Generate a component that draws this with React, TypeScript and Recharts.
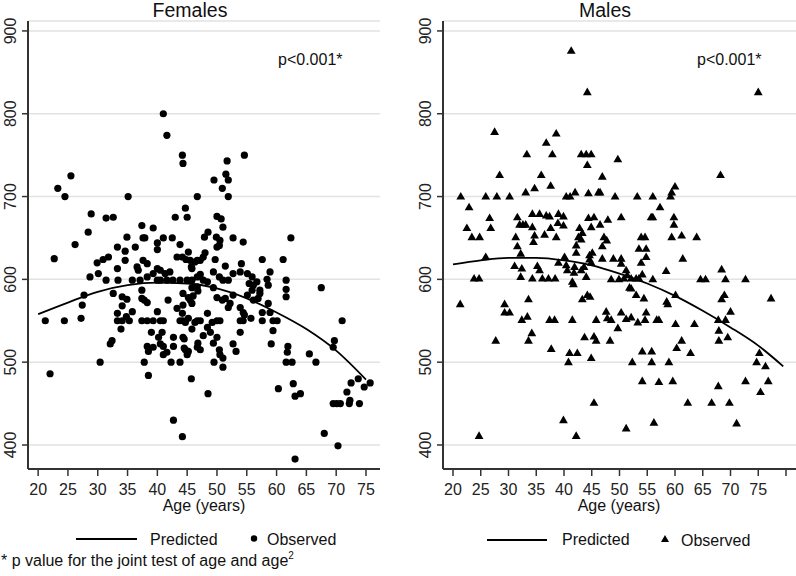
import React from "react";
import { CartesianGrid, ComposedChart, Line, Scatter, XAxis, YAxis } from "recharts";

const FONT = '"Liberation Sans", Arial, Helvetica, sans-serif';

// axis ticks
const yTicks = [400, 500, 600, 700, 800, 900];
const femaleAgeTicks = [20, 25, 30, 35, 40, 45, 50, 55, 60, 65, 70, 75];
const maleAgeTicks = [20, 25, 30, 35, 40, 45, 50, 55, 60, 65, 70, 75, 80];
const maleAgeLabels = ["20", "25", "30", "35", "40", "45", "50", "55", "60", "65", "70", "75", ""];

// predicted curves
const femalePredAges = [20, 25, 30, 35, 40, 45, 50, 55, 60, 65, 70, 75];
const femalePredicted = [558, 572, 585, 593, 596, 595, 589, 577, 560, 540, 514, 479];
const malePredAges = [20, 25, 30, 35, 40, 45, 50, 55, 60, 65, 70, 75, 79.5];
const malePredicted = [618, 623, 626, 626, 623, 617, 607, 595, 580, 562, 542, 520, 495];

// observed points [age, value]
const femaleObserved: [number, number][] = [
  [41.0, 800], [41.6, 774], [44.2, 750], [44.3, 740], [46.7, 700], [23.3, 710], [24.5, 700], [25.5, 725],
  [22.7, 625], [26.2, 642], [28.9, 679], [28.4, 657], [28.7, 603], [29.9, 620], [30.1, 607], [31.4, 674],
  [32.6, 675], [35.1, 700], [31.4, 599], [33.3, 639], [34.9, 651], [34.6, 634], [34.6, 623], [33.3, 613],
  [33.4, 599], [30.9, 624], [31.8, 627], [36.3, 639], [37.4, 665], [37.6, 650], [37.9, 650], [39.3, 662],
  [40.0, 644], [40.0, 636], [41.0, 650], [42.5, 650], [43.0, 675], [44.7, 686], [45.0, 675], [43.8, 642],
  [45.2, 633], [44.2, 627], [43.3, 627], [45.5, 623], [46.7, 623], [45.8, 613], [36.6, 615], [36.8, 611],
  [37.6, 623], [38.3, 619], [40.0, 613], [40.5, 611], [39.3, 607], [41.3, 607], [42.1, 609], [37.1, 599],
  [38.3, 603], [35.8, 599], [40.0, 599], [40.5, 599], [41.6, 599], [42.6, 599], [43.8, 599], [45.0, 599],
  [46.7, 603], [37.4, 587], [32.6, 583], [27.7, 581],
  [54.6, 750], [51.7, 743], [51.5, 727], [51.9, 720], [49.5, 720], [50.9, 710], [51.9, 700], [50.0, 676],
  [50.7, 673], [51.0, 663], [48.5, 657], [47.9, 651], [49.9, 651], [50.5, 647], [50.4, 641], [50.0, 639],
  [52.7, 650], [54.4, 645], [62.4, 650], [48.0, 632], [47.7, 627], [47.2, 623], [46.3, 621], [45.7, 615],
  [44.8, 624], [49.7, 624], [51.4, 616], [54.1, 619], [57.6, 624], [61.1, 624], [58.9, 609], [55.1, 607],
  [55.9, 603], [52.7, 607], [53.9, 609], [49.4, 609], [47.2, 606], [50.4, 603], [51.0, 599], [51.9, 599],
  [45.8, 599], [47.7, 599], [48.4, 597], [49.4, 590], [55.4, 595], [56.7, 597], [57.2, 583], [58.4, 600],
  [58.6, 593], [61.6, 599], [61.6, 588], [67.5, 590],
  [21.2, 550], [22.0, 486], [24.4, 550], [27.2, 553], [27.4, 569], [30.4, 500], [32.1, 522], [32.4, 526],
  [33.3, 559], [33.3, 550], [34.1, 550], [33.9, 540], [34.1, 568], [34.1, 579], [34.9, 576], [34.8, 555],
  [35.3, 550], [35.8, 561], [37.4, 577], [37.8, 575], [38.3, 572], [37.4, 550], [38.3, 550], [37.8, 500],
  [38.5, 484], [38.3, 519], [38.5, 513], [39.3, 518], [39.0, 536], [39.3, 550], [40.0, 561], [40.2, 530],
  [40.5, 522], [41.0, 519], [40.8, 536], [41.0, 550], [40.5, 550], [41.6, 512], [41.0, 509], [41.8, 575],
  [42.7, 530], [42.7, 519], [42.3, 500], [42.7, 430], [44.2, 410], [43.3, 565], [44.2, 559], [44.3, 550],
  [43.8, 550], [44.3, 530], [44.5, 517], [45.0, 509], [45.2, 513], [44.3, 569], [45.2, 578], [45.5, 575],
  [45.8, 571], [46.0, 580], [45.8, 540], [45.7, 480], [46.7, 550], [46.8, 523], [46.7, 518], [45.8, 590],
  [46.7, 591], [46.8, 586],
  [44.3, 583], [44.7, 548], [45.2, 553], [46.3, 548], [47.2, 550], [48.4, 559], [49.2, 548], [50.0, 550],
  [50.5, 550], [48.4, 542], [48.9, 536], [44.5, 528], [44.7, 515], [43.8, 500], [47.2, 515], [47.7, 532],
  [49.4, 523], [50.0, 530], [50.4, 515], [50.5, 509], [51.0, 505], [51.0, 494], [49.5, 500], [48.5, 462],
  [50.0, 578], [50.9, 575], [51.4, 577], [51.9, 566], [52.2, 571], [52.7, 581], [53.9, 566], [54.4, 560],
  [54.4, 550], [53.9, 550], [53.9, 536], [52.7, 522], [53.2, 513], [54.6, 557], [55.7, 553], [55.1, 581],
  [56.1, 593], [55.9, 587], [57.2, 587], [56.9, 577], [56.1, 575], [57.6, 560], [57.6, 550], [58.9, 560],
  [58.6, 571], [59.4, 550], [60.1, 550], [59.4, 538], [59.1, 522], [61.6, 579], [61.9, 519], [61.8, 512],
  [61.6, 500], [62.6, 500], [60.3, 468], [62.8, 474], [63.1, 459], [64.0, 462], [63.1, 383], [65.5, 510],
  [66.6, 500], [68.0, 414], [69.5, 518], [69.7, 526], [71.0, 550], [69.5, 450], [70.1, 450], [70.7, 450],
  [72.2, 450], [72.3, 454], [70.3, 399], [71.8, 464], [72.5, 475], [73.7, 480], [74.7, 470], [75.7, 475],
  [73.9, 450],
];

const maleObserved: [number, number][] = [
  [41.3, 876], [44.2, 826], [75.0, 826], [27.5, 778], [38.6, 776], [36.8, 765], [37.9, 751], [33.3, 751],
  [43.1, 751], [44.0, 751], [44.9, 751], [44.2, 738], [28.4, 726], [35.9, 726], [37.6, 713], [34.7, 710],
  [33.1, 705], [21.4, 700], [22.9, 687], [25.9, 700], [27.9, 700], [30.2, 700], [40.4, 700], [41.1, 700],
  [42.0, 705], [44.4, 704], [46.2, 705], [26.6, 674], [22.5, 662], [23.4, 651], [24.8, 651], [26.8, 662],
  [25.9, 627], [23.8, 601], [24.7, 601], [31.6, 675], [32.0, 666], [32.6, 666], [33.1, 666], [31.3, 651],
  [31.6, 640], [32.2, 631], [31.1, 616], [34.3, 679], [35.6, 679], [36.8, 677], [37.4, 676], [34.3, 663],
  [34.7, 653], [34.5, 645], [36.5, 654], [37.6, 662], [38.6, 651], [38.9, 668], [39.0, 679], [39.9, 676],
  [39.9, 665], [35.2, 616], [35.6, 611], [34.3, 601], [36.1, 601], [37.2, 601], [38.4, 601], [32.4, 613],
  [32.2, 603], [39.0, 620], [40.1, 627], [40.4, 617], [40.6, 611], [41.5, 597], [41.8, 608], [41.9, 615],
  [42.2, 632], [42.2, 641], [42.6, 651], [42.8, 662], [43.3, 656], [43.1, 648], [44.4, 674], [45.4, 675],
  [44.9, 663], [44.6, 629], [45.1, 632], [44.9, 620], [44.0, 603], [43.1, 611], [43.6, 615], [44.2, 581],
  [33.6, 576],
  [49.7, 745], [68.2, 726], [46.9, 724], [60.0, 712], [59.4, 705], [59.2, 700], [46.5, 705], [49.2, 700],
  [53.2, 700], [56.0, 700], [57.3, 687], [47.9, 672], [50.3, 675], [46.5, 666], [55.7, 675], [56.0, 675],
  [59.8, 675], [59.8, 666], [47.2, 651], [47.7, 647], [46.9, 640], [53.9, 651], [54.6, 651], [53.5, 637],
  [54.8, 637], [46.9, 625], [48.9, 625], [50.3, 625], [50.3, 619], [53.9, 620], [54.8, 627], [59.4, 651],
  [61.2, 653], [63.9, 651], [61.4, 625], [58.4, 610], [68.4, 612], [51.2, 611], [51.4, 605], [50.8, 601],
  [52.1, 601], [53.0, 601], [53.5, 601], [54.1, 606], [48.5, 600], [49.9, 600], [56.0, 600], [64.6, 600],
  [65.5, 600], [69.1, 600], [72.7, 600], [52.1, 589], [53.0, 581], [54.4, 577], [60.1, 581], [68.9, 581],
  [68.4, 576], [77.3, 577], [44.6, 624],
  [21.3, 570], [24.7, 411], [27.7, 526], [29.3, 570], [29.3, 560], [30.2, 560], [32.4, 551], [33.4, 555],
  [34.2, 535], [33.6, 526], [37.7, 516], [37.4, 551], [38.3, 551], [39.9, 430], [40.8, 500], [41.0, 511],
  [42.4, 511], [42.2, 411], [41.7, 594], [41.5, 551], [43.3, 576], [44.7, 579], [43.7, 530], [44.9, 505],
  [45.4, 531], [45.8, 526], [45.8, 551], [45.4, 451],
  [47.6, 561], [47.8, 553], [48.5, 551], [48.3, 526], [49.7, 541], [50.3, 560], [51.2, 552], [52.1, 554],
  [53.3, 548], [54.6, 551], [54.8, 560], [56.7, 551], [57.1, 551], [51.8, 590], [54.1, 513], [55.8, 513],
  [55.8, 500], [52.3, 500], [58.9, 500], [54.1, 477], [57.1, 476], [59.6, 477], [51.2, 420], [56.2, 427],
  [58.5, 573], [58.7, 570], [60.1, 546], [61.2, 526], [60.3, 517], [62.8, 511], [63.5, 546], [62.3, 451],
  [66.6, 451], [69.8, 451], [67.8, 471], [71.1, 426], [67.8, 551], [69.1, 551], [67.9, 538], [67.9, 526],
  [69.5, 530], [70.0, 561], [72.7, 477], [75.4, 464], [75.2, 511], [74.7, 500], [76.3, 495], [76.8, 477],
];

const toPoints = (rows: [number, number][]) => rows.map(([age, v]) => ({ age, v }));
const zipPoints = (ages: number[], vals: number[]) => ages.map((age, i) => ({ age, v: vals[i] }));

const Dot = (p: any) => <circle cx={p.cx} cy={p.cy} r={3.6} fill="#000" />;
const Tri = (p: any) => (
  <path d={`M${p.cx},${p.cy - 4.6}L${p.cx + 4.4},${p.cy + 3}L${p.cx - 4.4},${p.cy + 3}Z`} fill="#000" />
);

const YTick = (p: any) => (
  <g transform={`translate(${p.x - 4},${p.y}) rotate(-90)`}>
    <text x={0} y={0} textAnchor="middle" fontSize={16} fontFamily={FONT} fill="#222">
      {p.payload.value}
    </text>
  </g>
);

type PanelProps = {
  width: number;
  left: number;
  right: number;
  domain: [number, number];
  ticks: number[];
  format?: (v: number) => string;
  observed: { age: number; v: number }[];
  predicted: { age: number; v: number }[];
  marker: (p: any) => React.ReactElement;
};

function Panel({ width, left, right, domain, ticks, format, observed, predicted, marker }: PanelProps) {
  return (
    <ComposedChart width={width} height={520} margin={{ top: 21, right, left, bottom: 11 }}>
      <CartesianGrid vertical={false} stroke="#e2e2e2" strokeWidth={1.5} />
      <XAxis
        type="number"
        dataKey="age"
        domain={domain}
        ticks={ticks}
        interval={0}
        allowDataOverflow
        height={40}
        tickSize={7}
        tickMargin={8}
        tickFormatter={format}
        tick={{ fontSize: 16, fill: "#222", fontFamily: FONT }}
        axisLine={{ stroke: "#333", strokeWidth: 2 }}
        tickLine={{ stroke: "#333", strokeWidth: 1.5 }}
      />
      <YAxis
        type="number"
        dataKey="v"
        domain={[371, 912]}
        ticks={yTicks}
        interval={0}
        allowDataOverflow
        width={20}
        tickSize={6}
        tickMargin={2}
        tick={(p: any) => <YTick {...p} />}
        axisLine={{ stroke: "#333", strokeWidth: 2 }}
        tickLine={{ stroke: "#333", strokeWidth: 1.5 }}
      />
      <Scatter data={observed} dataKey="v" shape={marker} isAnimationActive={false} />
      <Line
        data={predicted}
        dataKey="v"
        type="monotone"
        stroke="#000"
        strokeWidth={1.8}
        dot={false}
        activeDot={false}
        isAnimationActive={false}
      />
    </ComposedChart>
  );
}

export default function App() {
  const txt = { fontFamily: FONT, fontSize: 16, fill: "#111" } as const;
  return (
    <div style={{ position: "absolute", left: 0, top: 0, width: 796, height: 576, background: "#fff" }}>
      <div style={{ position: "absolute", left: 0, top: 0 }}>
        <Panel
          width={390}
          left={8}
          right={10}
          domain={[18.3, 77.35]}
          ticks={femaleAgeTicks}
          observed={toPoints(femaleObserved)}
          predicted={zipPoints(femalePredAges, femalePredicted)}
          marker={Dot}
        />
      </div>
      <div style={{ position: "absolute", left: 400, top: 0 }}>
        <Panel
          width={396}
          left={23}
          right={0}
          domain={[18.2, 81.8]}
          ticks={maleAgeTicks}
          format={(v) => maleAgeLabels[maleAgeTicks.indexOf(v)] ?? ""}
          observed={toPoints(maleObserved)}
          predicted={zipPoints(malePredAges, malePredicted)}
          marker={Tri}
        />
      </div>
      <svg width={796} height={576} style={{ position: "absolute", left: 0, top: 0, pointerEvents: "none" }}>
        <text x={190} y={17} textAnchor="middle" {...txt} fontSize={19.5}>Females</text>
        <text x={605} y={17} textAnchor="middle" {...txt} fontSize={19.5}>Males</text>
        <text x={278} y={65} {...txt}>p&lt;0.001*</text>
        <text x={697} y={65} {...txt}>p&lt;0.001*</text>
        <text x={204} y={511} textAnchor="middle" {...txt}>Age (years)</text>
        <text x={619} y={511} textAnchor="middle" {...txt}>Age (years)</text>

        <line x1={76} x2={137} y1={539} y2={539} stroke="#000" strokeWidth={2} />
        <text x={150} y={545} {...txt}>Predicted</text>
        <circle cx={254} cy={538.5} r={3.2} fill="#000" />
        <text x={267} y={545} {...txt}>Observed</text>

        <line x1={487} x2={547} y1={540} y2={540} stroke="#000" strokeWidth={2} />
        <text x={562} y={545} {...txt}>Predicted</text>
        <path d="M665,535L669,542L661,542Z" fill="#000" />
        <text x={681} y={546} {...txt}>Observed</text>

        <text x={1} y={566} {...txt}>
          * p value for the joint test of age and age
          <tspan fontSize={10} dy={-7}>2</tspan>
        </text>
      </svg>
    </div>
  );
}
